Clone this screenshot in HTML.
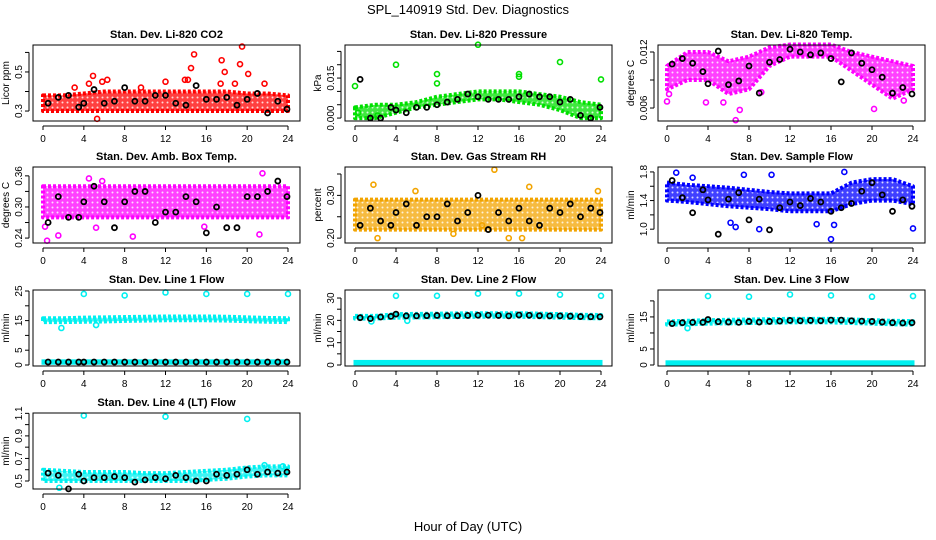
<!DOCTYPE html>
<html><head><meta charset="utf-8"><style>
body{margin:0;background:#fff;}
svg{display:block;font-family:"Liberation Sans",sans-serif;}
</style></head><body>
<svg id="chart" width="936" height="540" viewBox="0 0 936 540">
<defs id="defs"></defs>
<text x="468" y="14" text-anchor="middle" font-size="13">SPL_140919  Std. Dev. Diagnostics</text>
<text x="468" y="531" text-anchor="middle" font-size="13">Hour of Day (UTC)</text>
</svg>
<script>
const hours = [0,2,4,6,8,10,12,14,16,18,20,22,24];
const blackHours = [0.5,1.5,2.5,3.5,4,5,6,7,8,9,10,11,12,13,14,15,16,17,18,19,20,21,22,23,23.9];

const titles = ["Stan. Dev. Li-820 CO2","Stan. Dev. Li-820 Pressure","Stan. Dev. Li-820 Temp.","Stan. Dev. Amb. Box Temp.","Stan. Dev. Gas Stream RH","Stan. Dev. Sample Flow","Stan. Dev. Line 1 Flow","Stan. Dev. Line 2 Flow","Stan. Dev. Line 3 Flow","Stan. Dev. Line 4 (LT) Flow"];
const yTitles = ["Licor ppm","kPa","degrees C","degrees C","percent","ml/min","ml/min","ml/min","ml/min","ml/min"];
const yDomains = [[0.249,0.638],[-0.0011,0.0274],[0.00461,0.01275],[0.2305,0.3771],[0.1886,0.3664],[0.807,1.869],[-0.34,25.34],[-0.45,33.6],[-0.31,23.4],[0.429,1.103]];
const yTicks = [[0.3,0.4,0.5,0.6],[0,0.005,0.010,0.015,0.020,0.025],[0.006,0.009,0.012],[0.24,0.27,0.30,0.33,0.36],[0.20,0.25,0.30,0.35],[1.0,1.2,1.4,1.6,1.8],[0,5,10,15,20,25],[0,5,10,15,20,25,30],[0,5,10,15,20],[0.5,0.6,0.7,0.8,0.9,1.0,1.1]];
const yTickLabels = [["0.3","","0.5",""],["0.000","","","0.015","",""],["0.006","","0.012"],["0.24","","0.30","","0.36"],["0.20","","0.30",""],["1.0","","1.4","","1.8"],["0","5","","15","","25"],["0","","10","","20","","30"],["0","5","","15",""],["0.5","","0.7","","0.9","","1.1"]];
const colors = ["#ff0000","#00e000","#ff00ff","#ff00ff","#f2a400","#0000ff","#00f0f0","#00f0f0","#00f0f0","#00f0f0"];

const bandLo = [
 [0.30,0.30,0.30,0.30,0.30,0.30,0.30,0.30,0.30,0.30,0.30,0.30,0.30],
 [0.000,0.000,0.002,0.004,0.005,0.006,0.007,0.007,0.006,0.005,0.003,0.000,0.000],
 [0.0080,0.0090,0.0090,0.0075,0.0080,0.0105,0.0115,0.0115,0.0115,0.0100,0.0085,0.0070,0.0080],
 [0.28,0.28,0.28,0.28,0.28,0.28,0.28,0.28,0.28,0.28,0.28,0.28,0.28],
 [0.22,0.22,0.22,0.22,0.22,0.22,0.22,0.22,0.22,0.22,0.22,0.22,0.22],
 [1.40,1.38,1.35,1.32,1.30,1.28,1.25,1.25,1.25,1.35,1.40,1.40,1.35],
 [14.5,14.5,14.6,14.7,14.9,15.0,15.1,15.1,15.1,15.0,14.8,14.6,14.5],
 [20.8,20.8,21.2,21.3,21.4,21.5,21.6,21.6,21.6,21.4,21.2,21.0,20.9],
 [12.6,12.7,12.9,13.0,13.1,13.2,13.3,13.3,13.3,13.1,12.9,12.7,12.6],
 [0.50,0.50,0.50,0.50,0.50,0.50,0.50,0.50,0.51,0.52,0.54,0.55,0.55]];
const bandHi = [
 [0.38,0.38,0.39,0.40,0.40,0.40,0.40,0.40,0.40,0.40,0.39,0.39,0.38],
 [0.004,0.005,0.005,0.006,0.008,0.009,0.010,0.010,0.010,0.009,0.008,0.006,0.005],
 [0.0105,0.0120,0.0120,0.0110,0.0115,0.0125,0.0128,0.0128,0.0128,0.0120,0.0115,0.0110,0.0105],
 [0.34,0.34,0.34,0.34,0.34,0.34,0.34,0.34,0.34,0.34,0.34,0.34,0.34],
 [0.29,0.29,0.29,0.29,0.29,0.29,0.29,0.29,0.29,0.29,0.29,0.29,0.29],
 [1.65,1.62,1.60,1.58,1.55,1.52,1.50,1.50,1.50,1.65,1.70,1.70,1.60],
 [15.8,15.8,16.0,16.1,16.2,16.3,16.4,16.4,16.4,16.3,16.1,15.9,15.8],
 [22.0,22.0,22.8,22.9,23.0,23.1,23.2,23.2,23.2,23.0,22.8,22.5,22.4],
 [13.6,13.8,14.0,14.1,14.2,14.3,14.4,14.4,14.4,14.2,14.0,13.8,13.7],
 [0.60,0.59,0.58,0.58,0.58,0.57,0.57,0.58,0.59,0.60,0.62,0.63,0.63]];
const lowBandLo = [null,null,null,null,null,null,0.6,0.5,0.3,null];
const lowBandHi = [null,null,null,null,null,null,1.4,1.6,1.0,null];

const outlierX = [
 [4.5,4.9,5.3,5.8,6.3,12,13.9,14.2,14.5,14.8,17.5,17.8,17.4,18.8,19.5,19.3,20.1,21.7,3.1,9.6],
 [0,4,8,8,12,16,16,20,24,0.3,2.2],
 [0,6.7,7.1,20.2,3.8,5.5,0.2,9.2,23.1],
 [0.4,1.5,4.5,5.8,21.5,0.2,8.8,21.2,15.8,5.2],
 [13.6,1.8,5.9,23.7,17,2.2,15,16.3,12.4,9.6],
 [0.9,6.2,6.7,9,16,16.3,14.6,24,17.3,10.2,7.5,2.5],
 [4,8,12,16,20,24,1.8,5.2],
 [4,8,12,16,20,24,1.6,5.1],
 [4,8,12,16,20,24,2],
 [4,12,20,1.6,21.7,23.5]];
const outlierY = [
 [0.44,0.48,0.26,0.45,0.46,0.45,0.46,0.46,0.52,0.59,0.56,0.50,0.44,0.44,0.63,0.54,0.49,0.44,0.42,0.42],
 [0.012,0.020,0.0165,0.013,0.0275,0.0165,0.0155,0.021,0.0145,0.002,0.001],
 [0.0067,0.0047,0.0058,0.0059,0.0066,0.0066,0.0075,0.0077,0.0068],
 [0.235,0.245,0.355,0.35,0.365,0.262,0.243,0.247,0.262,0.26],
 [0.36,0.325,0.31,0.31,0.32,0.20,0.20,0.20,0.23,0.21],
 [1.79,1.09,1.03,1.0,0.86,1.06,1.07,1.01,1.8,1.76,1.76,1.72],
 [24,23.5,24.5,24,24,24,12.5,13.5],
 [31,31,32,32,31.5,31,19.5,19.8],
 [21.5,21.3,22,21.7,21.3,21.5,11.5],
 [1.08,1.07,1.05,0.44,0.64,0.63]];
const blackY = [
 [0.34,0.37,0.38,0.32,0.34,0.41,0.34,0.35,0.42,0.35,0.35,0.38,0.38,0.34,0.33,0.43,0.36,0.36,0.37,0.33,0.36,0.39,0.29,0.35,0.31],
 [0.0145,0.0,0.0,0.004,0.003,0.002,0.004,0.004,0.005,0.006,0.007,0.009,0.008,0.007,0.007,0.007,0.008,0.009,0.008,0.008,0.006,0.007,0.001,0.0,0.004],
 [0.0107,0.0113,0.0108,0.0099,0.0086,0.0121,0.0085,0.0089,0.0105,0.0076,0.0109,0.0112,0.0123,0.0120,0.0117,0.0119,0.0113,0.0088,0.0119,0.0108,0.0101,0.0093,0.0076,0.0082,0.0075],
 [0.27,0.32,0.28,0.28,0.31,0.34,0.31,0.26,0.31,0.33,0.33,0.27,0.29,0.29,0.32,0.31,0.25,0.30,0.26,0.26,0.32,0.32,0.33,0.35,0.32],
 [0.23,0.27,0.24,0.23,0.26,0.28,0.23,0.25,0.25,0.28,0.24,0.26,0.30,0.22,0.26,0.24,0.27,0.24,0.23,0.27,0.26,0.28,0.25,0.27,0.26],
 [1.68,1.44,1.23,1.55,1.41,0.93,1.42,1.51,1.13,1.42,0.99,1.30,1.38,1.33,1.43,1.38,1.25,1.30,1.36,1.53,1.65,1.48,1.25,1.41,1.32],
 [1.0,1.0,1.0,1.0,1.0,1.0,1.0,1.0,1.0,1.0,1.0,1.0,1.0,1.0,1.0,1.0,1.0,1.0,1.0,1.0,1.0,1.0,1.0,1.0,1.0],
 [21.2,20.8,21.5,21.8,22.8,22.0,22.0,22.1,22.2,22.1,22.1,22.2,22.3,22.3,22.2,22.0,22.4,22.3,22.1,22.0,22.0,21.9,21.7,21.6,21.6],
 [12.9,13.2,13.3,13.3,14.2,13.5,13.4,13.3,13.6,13.4,13.6,13.7,13.9,13.8,13.9,13.8,14.0,14.0,13.8,13.7,13.6,13.4,13.2,13.1,13.2],
 [0.57,0.55,0.43,0.56,0.50,0.53,0.53,0.54,0.53,0.49,0.51,0.53,0.52,0.55,0.53,0.50,0.50,0.56,0.55,0.56,0.60,0.56,0.58,0.57,0.58]];
const xTicks = [0,4,8,12,16,20,24];

const NS="http://www.w3.org/2000/svg";
const svg=document.getElementById('chart');
const defs=document.getElementById('defs');
function mk(tag,attrs,parent){const e=document.createElementNS(NS,tag);for(const k in attrs)e.setAttribute(k,attrs[k]);(parent||svg).appendChild(e);return e;}

const boxL=[33,345,658], boxR=[300,612,925], x0s=[43,355,667], x24s=[288,601,913];
const rowTop=[45,167,290,413];
for(let p=0;p<10;p++){
  const c=p%3, r=Math.floor(p/3);
  const top=rowTop[r], bot=top+76;
  const xs=h=>x0s[c]+(x24s[c]-x0s[c])*h/24;
  const [d0,d1]=yDomains[p];
  const ys=v=>bot-(v-d0)/(d1-d0)*(bot-top);
  const col=colors[p];
  const pat=mk('pattern',{id:'pat'+p,width:5,height:5,patternUnits:'userSpaceOnUse'},defs);
  mk('rect',{x:0,y:0,width:5,height:5,fill:col,opacity:0.75},pat);
  mk('circle',{cx:2.5,cy:2.5,r:1,fill:'#fff',opacity:0.8},pat);
  const g=mk('g',{});
  
  
  const t=mk('text',{x:(boxL[c]+boxR[c])/2,y:top-7,'text-anchor':'middle','font-size':11,'font-weight':'bold'},g);
  t.textContent=titles[p];
  
  
  const yt=mk('text',{x:0,y:0,'text-anchor':'middle','font-size':10,transform:`translate(${boxL[c]-24},${(top+bot)/2}) rotate(-90)`},g);
  yt.textContent=yTitles[p];
  
  
  let pts=hours.map((h,i)=>xs(h)+','+ys(bandHi[p][i])).concat(hours.slice().reverse().map((h,i)=>xs(h)+','+ys(bandLo[p][hours.length-1-i])));
  const band=mk('polygon',{points:pts.join(' '),fill:'url(#pat'+p+')',stroke:col,'stroke-width':4,'stroke-dasharray':'3 2','stroke-linejoin':'round'},g);
  
  
  if(lowBandLo[p]!==null){
    const lb=mk('rect',{x:xs(0),y:ys(lowBandHi[p]),width:xs(24)-xs(0),height:ys(lowBandLo[p])-ys(lowBandHi[p]),fill:col,stroke:col,'stroke-width':3},g);
    
    
  }
  outlierX[p].forEach((h,i)=>{
    const o=mk('circle',{cx:xs(h),cy:ys(outlierY[p][i]),r:2.5,fill:'none',stroke:col,'stroke-width':1.6},g);
    
    
  });
  blackHours.forEach((h,i)=>{
    const b=mk('circle',{cx:xs(h),cy:ys(blackY[p][i]),r:2.5,fill:'none',stroke:'#000','stroke-width':1.8},g);
    
    
  });
  const box=mk('rect',{x:boxL[c],y:top,width:boxR[c]-boxL[c],height:bot-top,fill:'none',stroke:'#000','stroke-width':1},g);
  
  
  mk('line',{x1:xs(0),x2:xs(24),y1:bot+5,y2:bot+5,stroke:'#000'},g);
  xTicks.forEach(h=>{
    mk('line',{x1:xs(h),x2:xs(h),y1:bot+5,y2:bot+9,stroke:'#000'},g);
    const tl=mk('text',{x:xs(h),y:bot+21,'text-anchor':'middle','font-size':10},g);
    tl.textContent=h;
    
    
  });
  const tk=yTicks[p];
  mk('line',{x1:boxL[c]-4,x2:boxL[c]-4,y1:ys(tk[0]),y2:ys(tk[tk.length-1]),stroke:'#000'},g);
  tk.forEach((v,i)=>{
    mk('line',{x1:boxL[c]-8,x2:boxL[c]-4,y1:ys(v),y2:ys(v),stroke:'#000'},g);
    const lab=yTickLabels[p][i];
    if(lab){
      const tl=mk('text',{x:0,y:0,'text-anchor':'middle','font-size':10,transform:`translate(${boxL[c]-11},${ys(v)}) rotate(-90)`},g);
      tl.textContent=lab;
      
      
    }
  });
}
</script>
</body></html>
